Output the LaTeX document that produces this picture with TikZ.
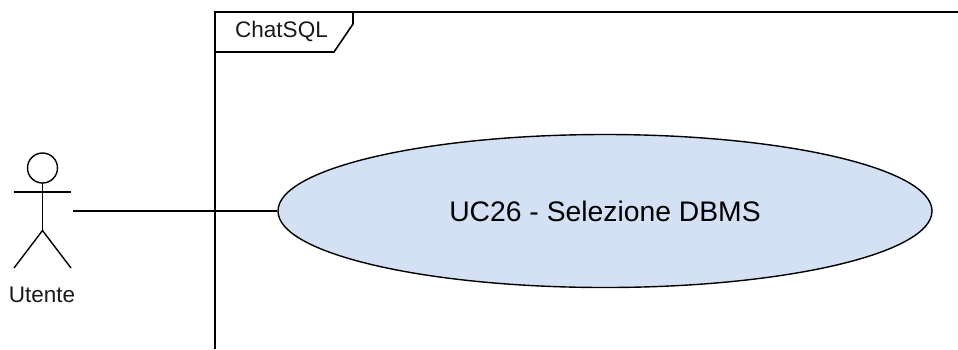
\documentclass[tikz,border=0pt]{standalone}
\usepackage{fontspec}
\setmainfont{Liberation Sans}
\usetikzlibrary{shapes.geometric}
\definecolor{usecasefill}{HTML}{D4E1F5}
\tikzset{
  line/.style={draw=black,line width=1.6pt},
  thinline/.style={draw=black,line width=1.4pt},
  usecase/.style={ellipse,draw=black,line width=1.4pt,fill=usecasefill,inner sep=0pt,minimum width=654pt,minimum height=153pt,font=\fontsize{28.3}{32}\selectfont},
  lbl/.style={inner sep=0pt,font=\fontsize{22.5}{26}\selectfont,text=black!90}
}
\begin{document}
\begin{tikzpicture}[x=1pt,y=-1pt]
\useasboundingbox (0,0) rectangle (958,349);
\draw[line] (215,349) -- (215,12) -- (958,12);
\draw[line] (215,52) -- (334,52) -- (353,24) -- (353,12);
\node[lbl] (frame) at (281.5,31.5) {ChatSQL};
\node[usecase] (uc) at (605,211) {UC26 - Selezione DBMS};
\draw[thinline] (42.5,168) circle (15);
\draw[thinline] (42.5,183) -- (42.5,230.5);
\draw[thinline] (14,192) -- (71,192);
\draw[thinline] (14,268) -- (42.5,230.5) -- (71,268);
\node[lbl] (actor) at (42,295) {Utente};
\coordinate (hand) at (73,211);
\draw[line,line width=1.5pt] (hand) -- (uc.west);
\end{tikzpicture}
\end{document}
